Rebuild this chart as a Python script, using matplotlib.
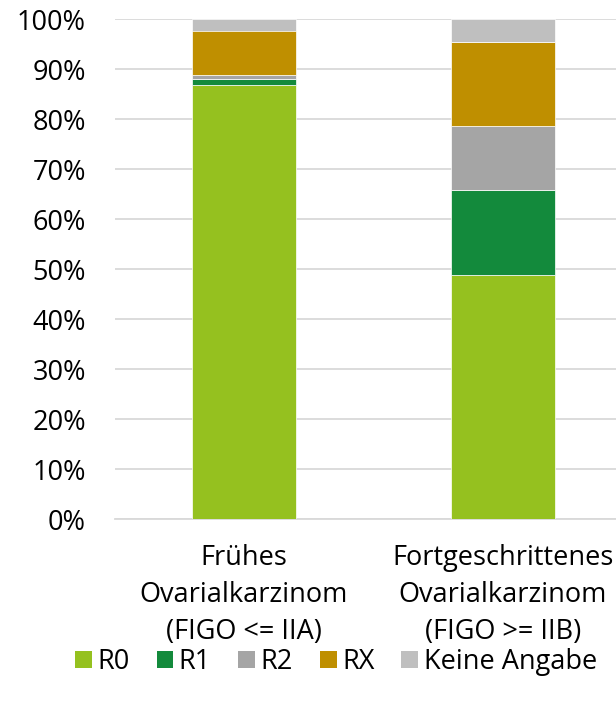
import matplotlib
matplotlib.use("Agg")
import matplotlib.pyplot as plt
from matplotlib.patches import Patch

plt.rcParams['font.family'] = ['Open Sans', 'DejaVu Sans']

categories = ["Frühes\nOvarialkarzinom\n(FIGO <= IIA)",
              "Fortgeschrittenes\nOvarialkarzinom\n(FIGO >= IIB)"]
series_names = ["R0", "R1", "R2", "RX", "Keine Angabe"]
r0 = [86.9, 48.9]
r1 = [1.2, 16.9]
r2 = [0.7, 12.8]
rx = [8.9, 16.9]
keine = [2.3, 4.5]
yticks = [0, 10, 20, 30, 40, 50, 60, 70, 80, 90, 100]
ytick_labels = [f"{v}%" for v in yticks]

colors = ["#95C11F", "#138A3C", "#A5A5A5", "#BF8F00", "#BFBFBF"]
series = [r0, r1, r2, rx, keine]

FS = 19.5

fig = plt.figure(figsize=(6.16, 7.04), dpi=100)
ax = fig.add_axes([115/616, (704-519)/704, (616-115)/616, 500/704])

x = list(range(len(categories)))
bottom = [0.0] * len(categories)
for vals, col, name in zip(series, colors, series_names):
    ax.bar(x, vals, width=0.40, bottom=bottom, color=col, edgecolor='white',
           linewidth=0.5, label=name, zorder=3)
    bottom = [b + v for b, v in zip(bottom, vals)]

ax.set_ylim(0, 100)
ax.set_xlim(-0.498, 1.436)
ax.set_yticks(yticks)
ax.set_yticklabels(ytick_labels, fontsize=FS)
ax.set_xticks(x)
ax.set_xticklabels(categories, fontsize=FS, linespacing=1.42)
ax.tick_params(axis='y', length=0, pad=21)
ax.tick_params(axis='x', length=0, pad=18)
ax.grid(axis='y', color='#D9D9D9', linewidth=1.3, zorder=0)
for s in ['left', 'right', 'top']:
    ax.spines[s].set_visible(False)
ax.spines['bottom'].set_color('#D9D9D9')
ax.spines['bottom'].set_linewidth(1.3)

handles = [Patch(facecolor=c, edgecolor='none', label=n) for c, n in zip(colors, series_names)]
fig.legend(handles=handles, loc='center', bbox_to_anchor=(336/616, 42/704), ncol=5,
           frameon=False, fontsize=FS, handlelength=0.62, handleheight=0.62,
           handletextpad=0.2, columnspacing=1.0)

fig.savefig("out.png", dpi=100)
